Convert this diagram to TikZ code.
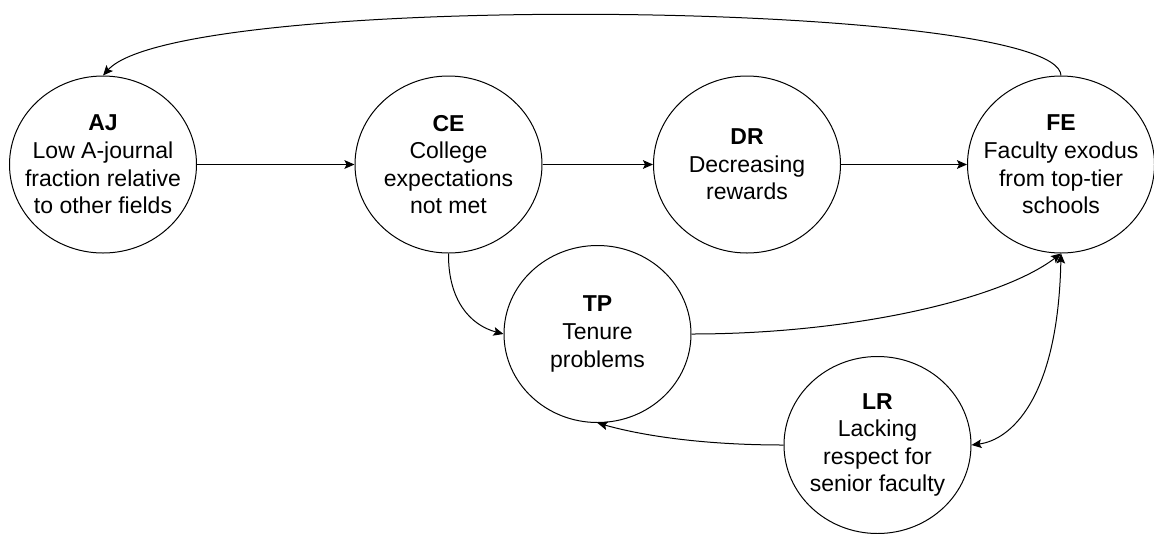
\documentclass[tikz,border=0pt]{standalone}
\usepackage{fontspec}
\setmainfont{Liberation Sans}
\usetikzlibrary{shapes.geometric,arrows.meta}
\begin{document}
\begin{tikzpicture}[x=0.75pt,y=-0.75pt,
  bub/.style={ellipse,draw,line width=0.75pt,minimum width=140.25pt,minimum height=132.75pt,inner sep=0pt},
  txt/.style={align=center,font=\fontsize{17.25}{20.7}\selectfont,inner sep=0pt},
  tip/.tip={Stealth[length=7.5pt,width=6.5pt,inset=1.5pt]},
  arr/.style={line width=0.75pt,-tip},
  darr/.style={line width=0.75pt,tip-tip}
]
\useasboundingbox (0,0) rectangle (1154,533);

\node[bub] (AJ) at (103,164.5) {};
\node[bub] (CE) at (448.5,164.5) {};
\node[bub] (DR) at (747,164.5) {};
\node[bub] (FE) at (1061,164.5) {};
\node[bub] (TP) at (597.5,334) {};
\node[bub] (LR) at (877.5,445) {};

\node[txt] (AJt) at (AJ) {\textbf{AJ}\\Low A-journal\\fraction relative\\to other fields};
\node[txt] (CEt) at (CE) {\textbf{CE}\\College\\expectations\\not met};
\node[txt] (DRt) at (DR) {\textbf{DR}\\Decreasing\\rewards};
\node[txt] (FEt) at (FE) {\textbf{FE}\\Faculty exodus\\from top-tier\\schools};
\node[txt] (TPt) at (TP) {\textbf{TP}\\Tenure\\problems};
\node[txt] (LRt) at (LR) {\textbf{LR}\\Lacking\\respect for\\senior faculty};

\draw[arr] (AJ.east) -- (CE.west);
\draw[arr] (CE.east) -- (DR.west);
\draw[arr] (DR.east) -- (FE.west);
\draw[arr] (FE.north) .. controls (1058,0) and (180,-10) .. (AJ.north);
\draw[arr] (CE.south) .. controls (448,300) and (470,325) .. (TP.west);
\draw[arr] (TP.east) .. controls (850,334) and (1000,300) .. (FE.south);
\draw[darr] (FE.south) .. controls (1058,400) and (1010,440) .. (LR.east);
\draw[arr] (LR.west) .. controls (700,445) and (640,435) .. (TP.south);
\end{tikzpicture}
\end{document}
